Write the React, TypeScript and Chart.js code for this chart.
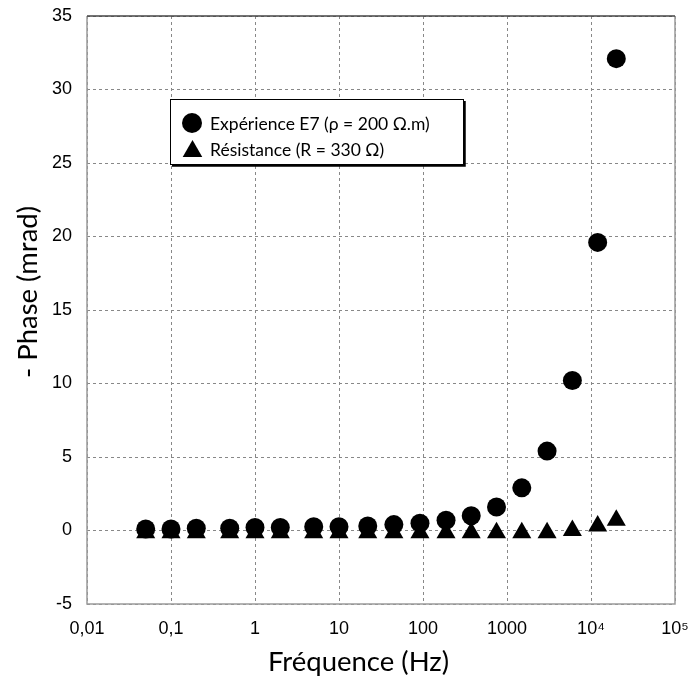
import React, { useEffect, useRef } from "react";
import { Chart, registerables } from "chart.js";

Chart.register(...registerables);

const frequencies = [0.05, 0.1, 0.2, 0.5, 1, 2, 5, 10, 22, 45, 92, 188, 375, 750, 1500, 3000, 6000, 12000, 20000];
const experiencePhase = [0.1, 0.1, 0.15, 0.15, 0.2, 0.2, 0.25, 0.25, 0.3, 0.4, 0.5, 0.7, 1.0, 1.6, 2.9, 5.4, 10.2, 19.6, 32.1];
const resistancePhase = [-0.15, -0.15, -0.15, -0.15, -0.15, -0.15, -0.15, -0.15, -0.15, -0.15, -0.15, -0.15, -0.15, -0.15, -0.15, -0.15, 0.0, 0.3, 0.7];
const xTickValues = [0.01, 0.1, 1, 10, 100, 1000, 10000, 100000];
const xTickLabels = ["0,01", "0,1", "1", "10", "100", "1000", "10⁴", "10⁵"];
const seriesLabels = ["Expérience E7 (ρ = 200 Ω.m)", "Résistance (R = 330 Ω)"];
const xTitle = "Fréquence (Hz)";
const yTitle = "- Phase (mrad)";

const decorPlugin = {
  id: "decor",
  afterDraw(chart: any) {
    const { ctx, chartArea } = chart;
    const { left, top, right, bottom } = chartArea;
    ctx.save();
    // frame
    ctx.setLineDash([]);
    ctx.lineWidth = 1.5;
    ctx.strokeStyle = "#9a9a9a";
    ctx.beginPath();
    ctx.moveTo(left, top);
    ctx.lineTo(left, bottom);
    ctx.lineTo(right, bottom);
    ctx.lineTo(right, top);
    ctx.stroke();
    ctx.strokeStyle = "#444";
    ctx.beginPath();
    ctx.moveTo(left, top);
    ctx.lineTo(right, top);
    ctx.stroke();

    // legend box
    const bx = 170, by = 99, bw = 293, bh = 65;
    ctx.fillStyle = "#fff";
    ctx.fillRect(bx, by, bw, bh);
    ctx.strokeStyle = "#000";
    ctx.lineWidth = 1;
    ctx.strokeRect(bx + 0.5, by + 0.5, bw, bh);
    ctx.lineWidth = 2.5;
    ctx.beginPath();
    ctx.moveTo(bx + 2, by + bh + 1.5);
    ctx.lineTo(bx + bw + 1.5, by + bh + 1.5);
    ctx.lineTo(bx + bw + 1.5, by + 2);
    ctx.stroke();

    ctx.fillStyle = "#000";
    ctx.beginPath();
    ctx.arc(192, 123, 10, 0, Math.PI * 2);
    ctx.fill();
    const r = 11.3, tx = 192.5, ty = 151.3;
    ctx.beginPath();
    ctx.moveTo(tx, ty - r);
    ctx.lineTo(tx + r * Math.sin((2 * Math.PI) / 3), ty + r / 2);
    ctx.lineTo(tx - r * Math.sin((2 * Math.PI) / 3), ty + r / 2);
    ctx.closePath();
    ctx.fill();

    ctx.font = "17.5px Lato";
    ctx.textAlign = "left";
    ctx.textBaseline = "alphabetic";
    ctx.fillText(seriesLabels[0], 210, 130);
    ctx.fillText(seriesLabels[1], 210, 155.5);

    // axis titles
    ctx.font = "27.5px Lato";
    ctx.textAlign = "center";
    ctx.fillText(xTitle, 358.5, 671);
    ctx.save();
    ctx.translate(37, 292);
    ctx.rotate(-Math.PI / 2);
    ctx.fillText(yTitle, 0, 0);
    ctx.restore();
    ctx.restore();
  },
};

export default function App() {
  const ref = useRef<HTMLCanvasElement>(null);
  useEffect(() => {
    if (!ref.current) return;
    const chart = new Chart(ref.current, {
      type: "scatter",
      data: {
        datasets: [
          {
            label: seriesLabels[1],
            data: frequencies.map((f, i) => ({ x: f, y: resistancePhase[i] })),
            pointStyle: "triangle",
            pointRadius: 11,
            backgroundColor: "#000",
            borderColor: "#000",
            borderWidth: 0,
          },
          {
            label: seriesLabels[0],
            data: frequencies.map((f, i) => ({ x: f, y: experiencePhase[i] })),
            pointStyle: "circle",
            pointRadius: 9.5,
            backgroundColor: "#000",
            borderColor: "#000",
            borderWidth: 0,
          },
        ],
      },
      options: {
        animation: false,
        responsive: true,
        maintainAspectRatio: false,
        layout: { padding: { top: 16, right: 15, left: 0, bottom: 0 } },
        plugins: { legend: { display: false }, tooltip: { enabled: false } },
        scales: {
          x: {
            type: "logarithmic",
            min: 0.01,
            max: 100000,
            afterBuildTicks: (scale: any) => {
              scale.ticks = xTickValues.map((v) => ({ value: v }));
            },
            afterFit: (scale: any) => {
              scale.height = 76;
              scale.paddingLeft = 0;
              scale.paddingRight = 0;
              scale.paddingTop = 0;
              scale.paddingBottom = 0;
            },
            ticks: {
              callback: (_v: any, i: number) => xTickLabels[i],
              color: "#000",
              font: { family: "Liberation Sans", size: 18 },
              padding: 14,
              maxRotation: 0,
              autoSkip: false,
            },
            grid: { color: "#888", lineWidth: 1, drawTicks: false },
            border: { display: false, dash: [3, 3] },
          },
          y: {
            min: -5,
            max: 35,
            afterFit: (scale: any) => {
              scale.width = 87;
              scale.paddingLeft = 0;
              scale.paddingRight = 0;
              scale.paddingTop = 0;
              scale.paddingBottom = 0;
            },
            ticks: {
              stepSize: 5,
              color: "#000",
              font: { family: "Liberation Sans", size: 18 },
              padding: 15,
            },
            grid: { color: "#888", lineWidth: 1, drawTicks: false },
            border: { display: false, dash: [3, 3] },
          },
        },
      },
      plugins: [decorPlugin],
    });
    return () => chart.destroy();
  }, []);
  return (
    <div style={{ position: "fixed", left: 0, top: 0, width: 690, height: 680 }}>
      <canvas ref={ref} />
    </div>
  );
}
